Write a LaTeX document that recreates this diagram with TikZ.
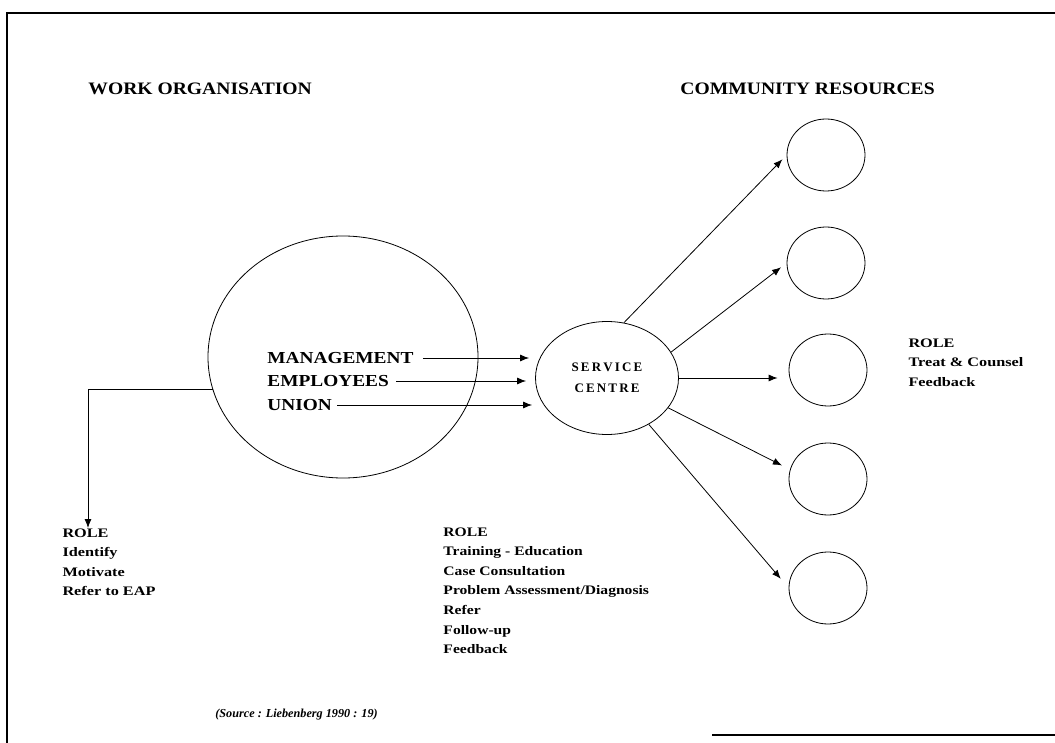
\documentclass[tikz,border=0pt]{standalone}
\usepackage{fontspec}
\setmainfont{Liberation Serif}
\usetikzlibrary{shapes.geometric,arrows.meta,calc}
\begin{document}
\begin{tikzpicture}[x=1pt,y=-1pt,
  line width=0.8pt,
  arr/.style={-{Latex[length=9pt,width=7pt]}},
  heading/.style={anchor=west,inner sep=0pt,xscale=1.12,font=\fontsize{17.5}{18}\selectfont\bfseries},
  member/.style={anchor=west,inner sep=0pt,xscale=1.15,font=\fontsize{16.8}{20}\selectfont\bfseries},
  rolelist/.style={anchor=north west,inner sep=0pt,align=left,xscale=1.25,font=\fontsize{13}{19.6}\selectfont\bfseries},
  resource/.style={draw,ellipse,minimum width=78pt,minimum height=72pt,inner sep=0pt}]
\useasboundingbox (0,0) rectangle (1055,743);

% page frame
\draw[line width=1.2pt] (7,743) -- (7,13) -- (1055,13);
\draw[line width=1.2pt] (712,735) -- (1055,735);

% headings
\node[heading] (hwork) at (88,89) {WORK ORGANISATION};
\node[heading] (hcomm) at (680,89) {COMMUNITY RESOURCES};

% work organisation
\node[draw,ellipse,minimum width=270pt,minimum height=242pt] (wo) at (343,357) {};
\node[member] (mgmt) at (267,358) {MANAGEMENT};
\node[member] (emp) at (267,381) {EMPLOYEES};
\node[member] (uni) at (267,405) {UNION};

% service centre
\node[draw,ellipse,minimum width=143pt,minimum height=113pt,align=center,
  font=\fontsize{13}{21}\selectfont\bfseries] (sc) at (607,378) {S\,E\,R\,V\,I\,C\,E\\C\,E\,N\,T\,R\,E};

% community resources
\node[resource] (c1) at (826,155) {};
\node[resource] (c2) at (826,263) {};
\node[resource] (c3) at (828,370) {};
\node[resource] (c4) at (828,479) {};
\node[resource] (c5) at (828,588) {};

% role texts
\node[rolelist] (roleL) at (62,528) {ROLE\\Identify\\Motivate\\Refer to EAP};
\node[rolelist,xscale=0.96] (roleS) at (443,527) {ROLE\\Training - Education\\Case Consultation\\Problem Assessment/Diagnosis\\Refer\\Follow-up\\Feedback};
\node[rolelist] (roleR) at (908,338) {ROLE\\Treat \& Counsel\\Feedback};

\node[anchor=west,inner sep=0pt,font=\fontsize{12.2}{13}\selectfont\bfseries\itshape] (src) at (215,715) {(Source : Liebenberg 1990 : 19)};

% flows into the service centre
\draw[arr,shorten <=9pt,shorten >=6pt] (mgmt.east) -- (mgmt.east -| sc.west);
\draw[arr,shorten <=7pt,shorten >=9pt] (emp.east) -- (emp.east -| sc.west);
\draw[arr,shorten <=5pt,shorten >=3pt] (uni.east) -- (uni.east -| sc.west);

% referral from the work organisation
\coordinate (lend) at (88,528);
\draw[arr] (wo.194) -| (lend);

% service centre to community resources
\draw[arr,shorten >=6pt] (sc.73) -- (c1.west);
\draw[arr,shorten >=7pt] (sc.22) -- (c2.west);
\draw[arr,shorten >=11pt] (sc.0) -- (sc.0 -| c3.west);
\draw[arr,shorten >=9pt] (sc.-26) -- (c4.166);
\draw[arr,shorten >=12pt] (sc.-48) -- (c5.west);
\end{tikzpicture}
\end{document}
